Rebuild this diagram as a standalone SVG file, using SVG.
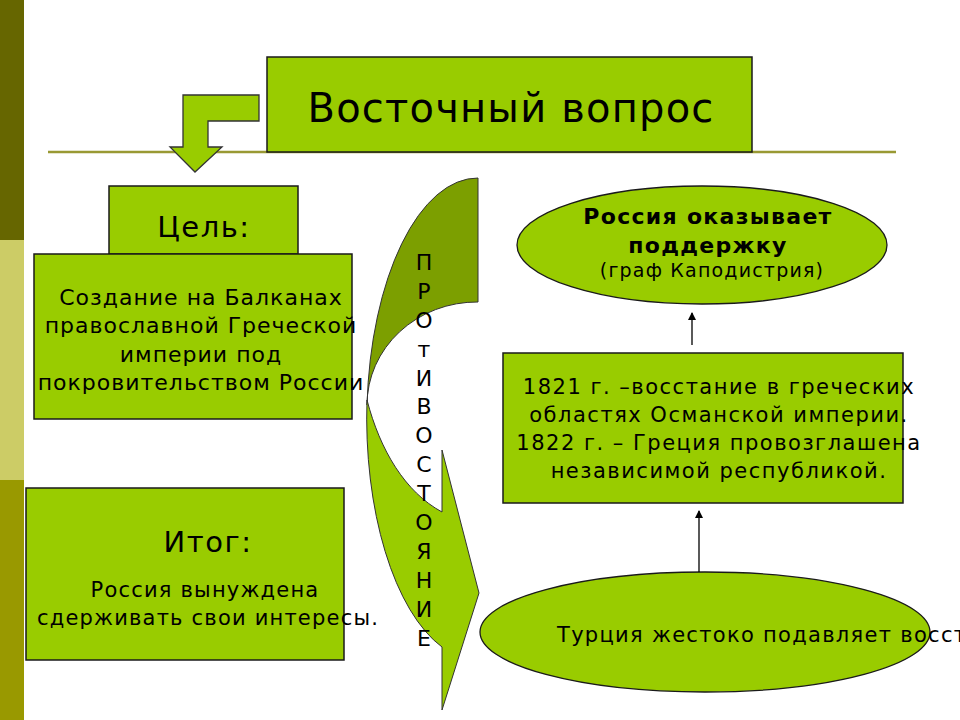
<svg xmlns="http://www.w3.org/2000/svg" width="960" height="720" viewBox="0 0 960 720">
<style>
.box{fill:#99CC00;stroke:#1a1a1a;stroke-width:1.5}
.t{font-family:"DejaVu Sans","Liberation Sans",sans-serif;fill:#000;text-anchor:middle}
.conn{stroke:#000;stroke-width:1.3;fill:none}
</style>
<defs>
<marker id="ah" viewBox="0 0 8 10" refX="7" refY="5" markerWidth="8" markerHeight="10" markerUnits="userSpaceOnUse" orient="auto">
<path d="M0,1 L8,5 L0,9 Z" fill="#000"/>
</marker>
</defs>
<rect width="960" height="720" fill="#fff"/>
<g id="sidebar">
<rect x="0" y="0" width="24" height="240" fill="#666600"/>
<rect x="0" y="240" width="24" height="240" fill="#CCCC66"/>
<rect x="0" y="480" width="24" height="240" fill="#999900"/>
</g>
<line x1="48" y1="152" x2="896" y2="152" stroke="#999933" stroke-width="2.5"/>
<g id="bent-arrow">
<polygon points="259,95 183,95 183,147 170,147 195,172 222,147 208,147 208,121 259,121" fill="#99CC00" stroke="#333" stroke-width="1.3"/>
</g>
<g id="title">
<rect class="box" x="267" y="57" width="485" height="95"/>
<text class="t" x="511" y="122" font-size="40" letter-spacing="1.2">Восточный вопрос</text>
</g>
<g id="confrontation">
<path d="M478,178 A111,242 0 0 0 367,405 A110,103 0 0 1 478,302 Z" fill="#7C9F00" stroke="#333" stroke-width="1"/>
<path d="M367,400 C380,450 405,492 442,512 L442,450 L479,593 L442,710 L442,647 A111,242 0 0 1 367,400 Z" fill="#99CC00" stroke="#333" stroke-width="1"/>
<text class="t" x="424" font-size="22"><tspan x="424" y="270">П</tspan><tspan x="424" y="299">Р</tspan><tspan x="424" y="328">О</tspan><tspan x="424" y="357">т</tspan><tspan x="424" y="386">И</tspan><tspan x="424" y="414">В</tspan><tspan x="424" y="443">О</tspan><tspan x="424" y="472">С</tspan><tspan x="424" y="501">Т</tspan><tspan x="424" y="530">О</tspan><tspan x="424" y="559">Я</tspan><tspan x="424" y="588">Н</tspan><tspan x="424" y="617">И</tspan><tspan x="424" y="646">Е</tspan></text>
</g>
<g id="goal-label">
<rect class="box" x="109" y="186" width="189" height="68"/>
<text class="t" x="204" y="237" font-size="29" letter-spacing="1.5">Цель:</text>
</g>
<g id="goal">
<rect class="box" x="34" y="254" width="318" height="165"/>
<text class="t" font-size="22" letter-spacing="1"><tspan x="201" y="305">Создание на Балканах</tspan><tspan x="201" y="333">православной Греческой</tspan><tspan x="201" y="362">империи под</tspan><tspan x="201" y="390">покровительством России</tspan></text>
</g>
<g id="result">
<rect class="box" x="26" y="488" width="318" height="172"/>
<text class="t" x="208" y="552" font-size="29" letter-spacing="1.5">Итог:</text>
<text class="t" font-size="21" letter-spacing="1.2"><tspan x="205" y="597">Россия вынуждена</tspan><tspan x="208" y="625">сдерживать свои интересы.</tspan></text>
</g>
<g id="support">
<ellipse cx="702" cy="245" rx="185" ry="59" fill="#99CC00" stroke="#1a1a1a" stroke-width="1.3"/>
<text class="t" font-size="22" font-weight="bold" letter-spacing="1.3"><tspan x="708" y="224">Россия оказывает</tspan><tspan x="708" y="253">поддержку</tspan></text>
<text class="t" x="712" y="277" font-size="19" letter-spacing="1.2">(граф Каподистрия)</text>
</g>
<g id="uprising">
<rect class="box" x="503" y="353" width="400" height="150"/>
<text class="t" font-size="21" letter-spacing="1.5"><tspan x="719" y="394">1821 г. –восстание в греческих</tspan><tspan x="719" y="422">областях Османской империи.</tspan><tspan x="719" y="450">1822 г. – Греция провозглашена</tspan><tspan x="719" y="478">независимой республикой.</tspan></text>
</g>
<g id="suppression">
<ellipse cx="705" cy="632" rx="225" ry="60" fill="#99CC00" stroke="#1a1a1a" stroke-width="1.3"/>
<text class="t" x="557" y="642" font-size="21" letter-spacing="1.3" style="text-anchor:start">Турция жестоко подавляет восстание</text>
</g>
<g id="connectors">
<line class="conn" x1="692" y1="345" x2="692" y2="313" marker-end="url(#ah)"/>
<line class="conn" x1="699" y1="572" x2="699" y2="511" marker-end="url(#ah)"/>
</g>
</svg>
